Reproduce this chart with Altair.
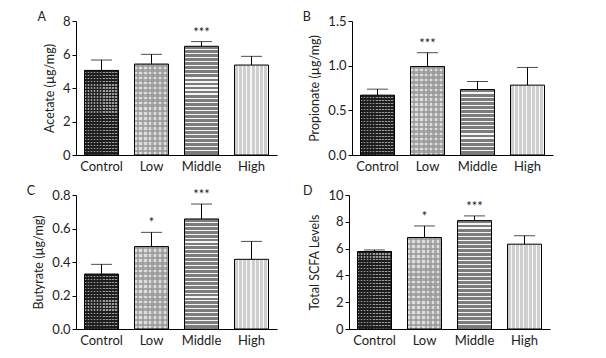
import altair as alt
import pandas as pd

groups = ["Control", "Low", "Middle", "High"]

acetate = [5.05, 5.43, 6.49, 5.37]
acetate_sd = [0.62, 0.58, 0.28, 0.52]
acetate_sig = ["", "", "***", ""]

propionate = [0.67, 0.99, 0.733, 0.782]
propionate_sd = [0.067, 0.155, 0.09, 0.198]
propionate_sig = ["", "***", "", ""]

butyrate = [0.328, 0.492, 0.657, 0.416]
butyrate_sd = [0.058, 0.085, 0.089, 0.107]
butyrate_sig = ["", "*", "***", ""]

total = [5.78, 6.83, 8.09, 6.33]
total_sd = [0.12, 0.86, 0.35, 0.63]
total_sig = ["", "*", "***", ""]

W, H = 201, 134
FONT = "Lato"


def stripes(n, c1, c2, frac, vertical_lines):
    stops = []
    for i in range(n):
        a = i / n
        b = (i + frac) / n
        c = (i + 1) / n
        stops += [{"offset": a, "color": c1}, {"offset": b, "color": c1},
                  {"offset": b, "color": c2}, {"offset": c, "color": c2}]
    if vertical_lines:
        return {"gradient": "linear", "x1": 0, "y1": 0, "x2": 1, "y2": 0, "stops": stops}
    return {"gradient": "linear", "x1": 0, "y1": 0, "x2": 0, "y2": 1, "stops": stops}


def panel(vals, sds, sig, ytitle, ymax, ticks, fmt, letter):
    df = pd.DataFrame({"g": groups, "v": vals, "sd": sds,
                       "top": [v + s for v, s in zip(vals, sds)], "sig": sig})
    xscale = alt.Scale(paddingInner=0.32, paddingOuter=0.17)
    xaxis = alt.Axis(labelAngle=0, ticks=False, labelPadding=5)
    x = alt.X("g:N", sort=groups, title=None, scale=xscale, axis=xaxis)
    yscale = alt.Scale(domain=[0, ymax], nice=False)
    yaxis = alt.Axis(values=ticks, format=fmt, tickSize=4, grid=False, titlePadding=6,
                     labelOverlap=False)
    y = alt.Y("v:Q", scale=yscale, title=ytitle, axis=yaxis)
    ytop = alt.Y("top:Q", scale=yscale, title=ytitle, axis=yaxis)
    layers = []
    for i, g in enumerate(groups):
        hpx = vals[i] / ymax * H
        nh = max(1, round(hpx / 3))
        nh4 = max(1, round(hpx / 4))
        base = alt.Chart(df).transform_filter(alt.datum.g == g).encode(x=x, y=y)
        if g == "Control":
            layers.append(base.mark_bar(fill=stripes(nh, "#1e1e1e", "#9a9a9a", 0.6, False)))
            layers.append(base.mark_bar(
                fill=stripes(11, "rgba(30,30,30,0)", "rgba(30,30,30,0.75)", 0.5, True),
                stroke="black", strokeWidth=1))
        elif g == "Low":
            layers.append(base.mark_bar(fill=stripes(max(1, round(hpx / 5)), "#a8a8a8", "#dedede", 0.5, False)))
            layers.append(base.mark_bar(fill=stripes(7, "rgba(150,150,150,0)", "rgba(150,150,150,0.7)", 0.5, True),
                                        stroke="black", strokeWidth=1))
        elif g == "Middle":
            layers.append(base.mark_bar(fill=stripes(nh4, "#7c7c7c", "#f4f4f4", 0.72, False),
                                        stroke="black", strokeWidth=1))
        else:
            layers.append(base.mark_bar(fill=stripes(8, "#cfcfcf", "#f7f7f7", 0.72, True),
                                        stroke="black", strokeWidth=1))
    err = alt.Chart(df).mark_rule(color="black", strokeWidth=1).encode(
        x=x, y=y, y2="top:Q")
    cap = alt.Chart(df).mark_tick(color="black", thickness=1, size=21).encode(x=x, y=ytop)
    txt = alt.Chart(df).mark_text(baseline="bottom", dy=-2, fontSize=13, font=FONT, color="#222").encode(
        x=x, y=ytop, text="sig:N")
    return alt.layer(*layers, err, cap, txt).properties(
        width=W, height=H,
        title=alt.TitleParams(letter, anchor="start", frame="bounds", fontSize=12.5,
                              fontWeight="normal", font=FONT, color="#222", offset=-8, dx=-6))


pA = panel(acetate, acetate_sd, acetate_sig, "Acetate (µg/mg)", 8, [0, 2, 4, 6, 8], "d", "A")
pB = panel(propionate, propionate_sd, propionate_sig, "Propionate (µg/mg)", 1.5, [0, 0.5, 1.0, 1.5], ".1f", "B")
pC = panel(butyrate, butyrate_sd, butyrate_sig, "Butyrate (µg/mg)", 0.8, [0, 0.2, 0.4, 0.6, 0.8], ".1f", "C")
pD = panel(total, total_sd, total_sig, "Total SCFA Levels", 10, [0, 2, 4, 6, 8, 10], "d", "D")

chart = alt.vconcat(
    alt.hconcat(pA, pB, spacing=25),
    alt.hconcat(pC, pD, spacing=25),
    spacing=11,
).properties(
    padding={"left": 18, "top": 2, "right": 5, "bottom": 5}, background="white"
).configure_view(stroke=None).configure_axis(
    labelFont=FONT, titleFont=FONT, labelFontSize=13, titleFontSize=12.5, titleFontWeight="normal",
    labelColor="#222", titleColor="#222", domainColor="black", tickColor="black", domainWidth=1,
)

chart.save("out.html", embed_options={"renderer": "svg", "actions": False})
